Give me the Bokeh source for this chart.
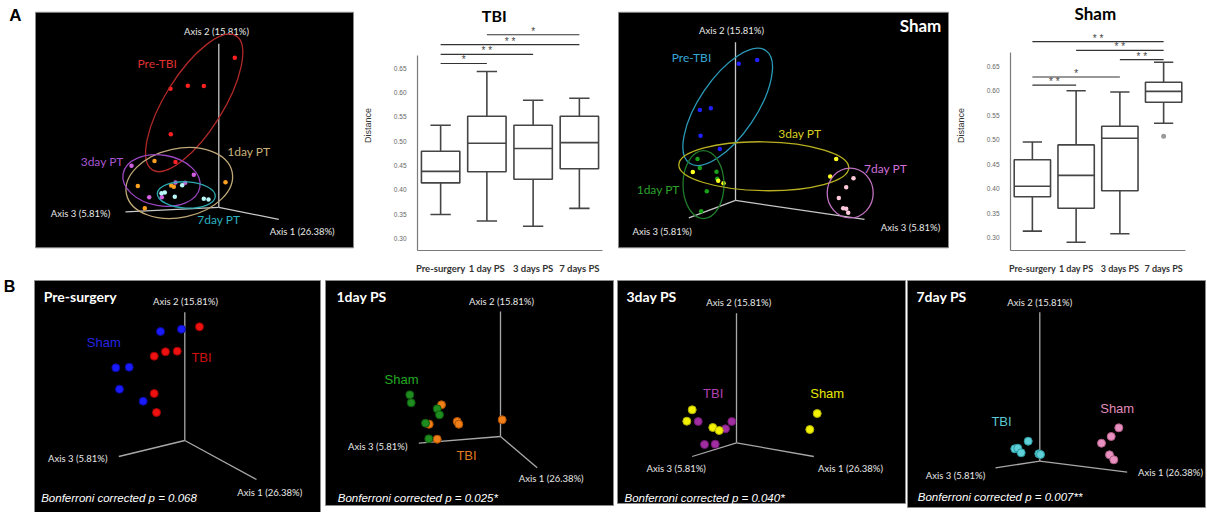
from bokeh.plotting import figure
from bokeh.layouts import row, column
from bokeh.models import Range1d, FixedTicker, LinearAxis, NumeralTickFormatter
from bokeh.core.properties import value
from bokeh.embed import file_html
from bokeh.resources import INLINE

# ---------------- box plot data (Distance) ----------------
categories = ["Pre-surgery", "1 day PS", "3 days PS", "7 days PS"]
positions = [1, 2, 3, 4]
tick_values = [0.30, 0.35, 0.40, 0.45, 0.50, 0.55, 0.60, 0.65]

tbi_low = [0.349, 0.3355, 0.3248, 0.3617]
tbi_q1 = [0.414, 0.437, 0.4216, 0.443]
tbi_med = [0.4377, 0.4954, 0.4847, 0.4968]
tbi_q3 = [0.479, 0.551, 0.5325, 0.551]
tbi_high = [0.5325, 0.643, 0.584, 0.588]
tbi_sig_from = [2, 1, 1, 1]
tbi_sig_to = [4, 4, 3, 2]
tbi_sig_level = [0.7186, 0.6984, 0.6782, 0.6595]
tbi_sig_mark = ["*", "* *", "* *", "*"]

sham_low = [0.3134, 0.2906, 0.308, 0.5335]
sham_q1 = [0.3837, 0.3602, 0.3958, 0.5765]
sham_med = [0.405, 0.4271, 0.5028, 0.5986]
sham_q3 = [0.4592, 0.4894, 0.5275, 0.6173]
sham_high = [0.4954, 0.5998, 0.5972, 0.658]
sham_out_x = [4]
sham_out_y = [0.5068]
sham_sig_from = [1, 2, 3, 1, 1]
sham_sig_to = [4, 4, 4, 3, 2]
sham_sig_level = [0.7002, 0.6821, 0.6635, 0.6279, 0.6112]
sham_sig_mark = ["* *", "* *", "* *", "*", "* *"]

# ---------------- PCoA scores (projected, panel pixel space) ----------------
a1_pre_x = [234.3, 170.0, 187.3, 203.3, 170.3, 175.0]
a1_pre_y = [63.3, 97.3, 94.0, 94.3, 147.7, 178.3]
a1_d1_x = [154.0, 137.3, 170.7, 173.3, 225.0, 144.3]
a1_d1_y = [177.3, 204.7, 204.3, 205.7, 200.7, 229.3]
a1_d3_x = [131.0, 193.3, 175.0, 184.7, 148.7, 161.3]
a1_d3_y = [182.3, 192.3, 201.0, 201.3, 217.3, 217.3]
a1_d7_x = [181.7, 161.0, 164.3, 174.3, 203.3, 208.0]
a1_d7_y = [204.0, 212.7, 212.0, 216.7, 219.0, 219.7]
a3_pre_x = [738.3, 756.7, 699.3, 710.3, 700.0, 719.3]
a3_pre_y = [69.7, 65.7, 121.0, 119.0, 149.3, 164.0]
a3_d1_x = [697.0, 699.3, 716.0, 716.7, 706.3, 700.7]
a3_d1_y = [175.0, 185.0, 189.0, 196.7, 210.7, 232.7]
a3_d3_x = [692.3, 717.7, 723.0, 835.7, 829.7]
a3_d3_y = [189.3, 199.0, 201.7, 175.0, 194.3]
a3_d7_x = [853.0, 845.7, 838.3, 842.7, 845.7, 847.7]
a3_d7_y = [196.3, 206.3, 218.0, 229.3, 230.0, 234.3]
b1_sham_x = [160.0, 181.0, 115.3, 128.7, 119.0, 142.7]
b1_sham_y = [331.0, 328.7, 367.3, 366.7, 388.7, 400.7]
b1_tbi_x = [199.0, 153.7, 165.0, 176.7, 153.7, 156.0]
b1_tbi_y = [326.3, 355.7, 351.3, 350.7, 393.0, 412.0]
b2_sham_x = [409.3, 410.7, 436.7, 439.0, 425.0, 428.3]
b2_sham_y = [394.3, 402.3, 408.3, 414.3, 422.7, 438.3]
b2_tbi_x = [441.0, 428.7, 456.7, 458.3, 501.7, 436.7]
b2_tbi_y = [404.3, 423.7, 421.0, 423.7, 419.3, 438.7]
b3_sham_x = [691.7, 686.3, 712.3, 718.7, 816.7, 809.3]
b3_sham_y = [409.3, 420.7, 427.0, 430.0, 413.0, 429.0]
b3_tbi_x = [697.7, 731.3, 725.0, 704.0, 714.7]
b3_tbi_y = [421.0, 421.0, 428.3, 444.0, 443.7]
b4_sham_x = [1118.3, 1110.7, 1101.0, 1109.0, 1113.3]
b4_sham_y = [427.3, 436.0, 442.7, 454.3, 459.3]
b4_tbi_x = [1027.7, 1014.3, 1017.3, 1020.7, 1038.3, 1040.0]
b4_tbi_y = [440.7, 448.3, 447.7, 452.3, 453.3, 454.0]

b_pvalues = ["Bonferroni corrected p = 0.068", "Bonferroni corrected p = 0.025*",
             "Bonferroni corrected p = 0.040*", "Bonferroni corrected p = 0.007**"]
b_titles = ["Pre-surgery", "1day PS", "3day PS", "7day PS"]

PC_FONT = value("Lato")
AX_FONT = value("Liberation Sans")


def no_grid(p):
    p.xgrid.visible = False
    p.ygrid.visible = False


def base_fig(x0, x1, y0, y1):
    p = figure(width=int(x1 - x0), height=int(y1 - y0), x_range=Range1d(x0, x1),
               y_range=Range1d(y1, y0), output_backend="svg", toolbar_location=None,
               x_axis_location=None, y_axis_location=None, min_border=0)
    p.outline_line_color = None
    p.background_fill_color = "white"
    p.border_fill_color = "white"
    no_grid(p)
    return p


def txt(p, x, y, s, color, size, font=PC_FONT, style="normal", align="center"):
    p.text(x=[x], y=[y], text=[s], text_color=color, text_font=font, text_font_size=size,
           text_font_style=style, text_align=align, text_baseline="middle")


def pcoa_axes(p, origin, ends, labels, lab_pos, col="#c8c8c8", lcol="#e8e8e8"):
    ox, oy = origin
    p.segment(x0=[ox] * 3, y0=[oy] * 3, x1=[e[0] for e in ends], y1=[e[1] for e in ends],
              line_color=col, line_width=1.3)
    for s, (lx, ly) in zip(labels, lab_pos):
        txt(p, lx, ly, s, lcol, "9.5px")


def panel_box(p, l, r, t, b):
    p.quad(left=[l], right=[r], top=[t], bottom=[b], fill_color="black",
           line_color="#8a8a8a", line_width=1)


AX_LABELS = ["Axis 2 (15.81%)", "Axis 3 (5.81%)", "Axis 1 (26.38%)"]

# ---------- A1: TBI PCoA ----------
fA1 = base_fig(0, 355, 0, 276)
txt(fA1, 15, 17, "A", "black", "17px", font=AX_FONT, style="bold")
panel_box(fA1, 35, 353, 13, 273)
pcoa_axes(fA1, (218.3, 228.3), [(218.3, 47.7), (125.0, 233.3), (278.3, 241.7)],
          AX_LABELS, [(216, 34.3), (80, 235.7), (301.7, 255)])
for (xs, ys, c) in [(a1_pre_x, a1_pre_y, "#ff2020"), (a1_d1_x, a1_d1_y, "#ffa020"),
                    (a1_d3_x, a1_d3_y, "#d060e0"), (a1_d7_x, a1_d7_y, "#b8f8f8")]:
    fA1.scatter(xs, ys, size=4.5, fill_color=c, line_color=None)
fA1.ellipse(x=[193.7, 178.8, 161.0, 185.8], y=[113.0, 201.5, 198.7, 214.7],
            width=[158, 108, 78, 58], height=[64, 76, 56, 29], angle=[58, 12, -10, -3],
            angle_units="deg", fill_color=None,
            line_color=["#b02828", "#bfa878", "#9a46c0", "#2aa8b0"], line_width=1.3)
txt(fA1, 156.7, 69.3, "Pre-TBI", "#e03030", "12px")
txt(fA1, 248.3, 166.7, "1day PT", "#c9b27c", "12px")
txt(fA1, 101.7, 177.3, "3day PT", "#a855d0", "12px")
txt(fA1, 218.3, 242.3, "7day PT", "#2ab0c0", "12px")


# ---------- box plots ----------
def box_fig(width, left_b, right_b, y0, y1, axis_top, title, title_x, title_y,
            lo, q1, med, q3, hi, sf, st, sl, sm, fsize_title, cat_size):
    p = figure(width=width, height=276, x_range=Range1d(0.5, 4.5), y_range=Range1d(y0, y1),
               output_backend="svg", toolbar_location=None, x_axis_location=None,
               y_axis_location=None, min_border_left=left_b, min_border_right=right_b,
               min_border_top=0, min_border_bottom=21)
    p.outline_line_color = None
    no_grid(p)
    yax = LinearAxis(ticker=FixedTicker(ticks=tick_values), formatter=NumeralTickFormatter(format="0.00"),
                     bounds=(y0, axis_top), axis_label="Distance")
    yax.axis_line_color = "#7a7a7a"
    yax.axis_line_width = 1.2
    yax.major_tick_line_color = None
    yax.minor_tick_line_color = None
    yax.major_label_text_font_size = "6.5px"
    yax.major_label_text_color = "#666666"
    yax.major_label_text_font = "Liberation Sans"
    yax.major_label_standoff = 5
    yax.axis_label_text_font = "Liberation Sans"
    yax.axis_label_text_font_size = "9px"
    yax.axis_label_text_font_style = "normal"
    yax.axis_label_text_color = "#333333"
    yax.axis_label_standoff = 18
    p.add_layout(yax, "left")
    xax = LinearAxis(ticker=FixedTicker(ticks=positions),
                     major_label_overrides={pp: c for pp, c in zip(positions, categories)})
    xax.axis_line_color = "#7a7a7a"
    xax.axis_line_width = 1.2
    xax.major_tick_line_color = None
    xax.minor_tick_line_color = None
    xax.major_label_text_font = "Lato"
    xax.major_label_text_font_style = "bold"
    xax.major_label_text_font_size = cat_size
    xax.major_label_text_color = "#333333"
    xax.major_label_standoff = 6
    p.add_layout(xax, "below")
    bw = 0.83
    cw = 0.22
    col = "#454545"
    p.segment(x0=positions, y0=lo, x1=positions, y1=q1, line_color=col, line_width=1.6)
    p.segment(x0=positions, y0=q3, x1=positions, y1=hi, line_color=col, line_width=1.6)
    p.segment(x0=[x - cw for x in positions], y0=lo, x1=[x + cw for x in positions], y1=lo,
              line_color=col, line_width=1.6)
    p.segment(x0=[x - cw for x in positions], y0=hi, x1=[x + cw for x in positions], y1=hi,
              line_color=col, line_width=1.6)
    p.vbar(x=positions, width=bw, bottom=q1, top=q3, fill_color="white", line_color=col, line_width=1.6)
    p.segment(x0=[x - bw / 2 for x in positions], y0=med, x1=[x + bw / 2 for x in positions], y1=med,
              line_color=col, line_width=1.6)
    p.segment(x0=sf, y0=sl, x1=st, y1=sl, line_color="#333333", line_width=1.2)
    p.text(x=[(a + b) / 2 for a, b in zip(sf, st)], y=sl, text=sm, text_color="#444444",
           text_font=AX_FONT, text_font_size="10px", text_align="center", text_baseline="bottom",
           y_offset=2)
    p.text(x=[title_x], y=[title_y], text=[title], text_color="black", text_font=PC_FONT,
           text_font_size=fsize_title, text_font_style="bold", text_align="center",
           text_baseline="middle")
    return p


fA2 = box_fig(262, 62, 15, 0.275, 0.789, 0.676, "TBI", 2.16, 0.759,
              tbi_low, tbi_q1, tbi_med, tbi_q3, tbi_high,
              tbi_sig_from, tbi_sig_to, tbi_sig_level, tbi_sig_mark, "16px", "9.5px")

fA4 = box_fig(257, 60, 22, 0.2739, 0.784, 0.6775, "Sham", 2.44, 0.7573,
              sham_low, sham_q1, sham_med, sham_q3, sham_high,
              sham_sig_from, sham_sig_to, sham_sig_level, sham_sig_mark, "17px", "9px")
fA4.scatter(sham_out_x, sham_out_y, size=5, fill_color="#9a9a9a", line_color=None)

# ---------- A3: Sham PCoA ----------
fA3 = base_fig(617, 950, 0, 276)
panel_box(fA3, 618, 948, 13, 273)
pcoa_axes(fA3, (735, 220.7), [(735, 46), (688.3, 240), (864, 241.7)],
          ["Axis 2 (15.81%)", "Axis 3 (5.81%)", "Axis 3 (5.81%)"],
          [(731, 33.3), (661.7, 255), (910, 250.7)])
for (xs, ys, c) in [(a3_pre_x, a3_pre_y, "#2020ff"), (a3_d1_x, a3_d1_y, "#18a018"),
                    (a3_d3_x, a3_d3_y, "#ffff20"), (a3_d7_x, a3_d7_y, "#ffc8dc")]:
    fA3.scatter(xs, ys, size=4.5, fill_color=c, line_color=None)
fA3.ellipse(x=[727.2, 703.0, 763.3, 849.7], y=[117.5, 203.2, 183.0, 212.5],
            width=[136, 41, 170, 46], height=[63, 75, 54, 55], angle=[56, 0, -1, 0],
            angle_units="deg", fill_color=None,
            line_color=["#2a9ab8", "#1f7a2a", "#b8b020", "#c070c0"], line_width=1.3)
txt(fA3, 691, 63.3, "Pre-TBI", "#34a6d6", "12px")
txt(fA3, 657.7, 209, "1day PT", "#2ca02c", "12px")
txt(fA3, 799.3, 146.7, "3day PT", "#d8d020", "12px")
txt(fA3, 885, 185.7, "7day PT", "#d070d8", "12px")
txt(fA3, 920, 27.3, "Sham", "white", "17px", style="bold")

# ---------- Row B ----------
fB1 = base_fig(0, 322, 276, 512)
txt(fB1, 9, 286, "B", "black", "16px", font=AX_FONT, style="bold")
panel_box(fB1, 34, 320, 280, 512)
pcoa_axes(fB1, (184.3, 440), [(184.3, 311.7), (118.3, 456), (256, 479)], AX_LABELS,
          [(185, 300.7), (77.3, 458.3), (269.3, 492.3)], col="#a8a8a8")
fB1.scatter(b1_sham_x, b1_sham_y, size=8, fill_color="#1a1aff", line_color="#0a0aa0")
fB1.scatter(b1_tbi_x, b1_tbi_y, size=8, fill_color="#ee1111", line_color="#a00000")
txt(fB1, 103.3, 341.7, "Sham", "#2424e0", "13px", font=AX_FONT)
txt(fB1, 201, 356.7, "TBI", "#d01010", "13px", font=AX_FONT)
txt(fB1, 43.3, 295.7, b_titles[0], "white", "14px", style="bold", align="left")
txt(fB1, 40.7, 497.7, b_pvalues[0], "white", "11.5px", font=AX_FONT, style="italic", align="left")

fB2 = base_fig(322, 615, 276, 512)
panel_box(fB2, 325, 613, 280, 505)
pcoa_axes(fB2, (500, 436), [(500, 311), (418.3, 442.7), (536.7, 467.3)], AX_LABELS,
          [(501, 300.7), (377.3, 445.7), (550.7, 478.3)], col="#a8a8a8")
fB2.scatter(b2_tbi_x, b2_tbi_y, size=8, fill_color="#f07f1a", line_color="#b05000")
fB2.scatter(b2_sham_x, b2_sham_y, size=8, fill_color="#1e8c1e", line_color="#0c5a0c")
txt(fB2, 401, 379, "Sham", "#22aa22", "13px", font=AX_FONT)
txt(fB2, 466, 455, "TBI", "#e07b20", "13px", font=AX_FONT)
txt(fB2, 336, 295.7, b_titles[1], "white", "14px", style="bold", align="left")
txt(fB2, 337.3, 497.3, b_pvalues[1], "white", "11.5px", font=AX_FONT, style="italic", align="left")

fB3 = base_fig(615, 906, 276, 512)
panel_box(fB3, 617, 905, 280, 503)
pcoa_axes(fB3, (736, 442.3), [(736, 312.7), (691.7, 456), (813.3, 456)], AX_LABELS,
          [(738.3, 301.7), (675.7, 467.7), (850, 467.7)], col="#a8a8a8")
fB3.scatter(b3_tbi_x, b3_tbi_y, size=8, fill_color="#a02ea0", line_color="#701870")
fB3.scatter(b3_sham_x, b3_sham_y, size=8, fill_color="#f2f200", line_color="#b0b000")
txt(fB3, 712.7, 392.7, "TBI", "#b040b0", "13px", font=AX_FONT)
txt(fB3, 826.7, 392.7, "Sham", "#e8e800", "13px", font=AX_FONT)
txt(fB3, 626, 295.7, b_titles[2], "white", "14px", style="bold", align="left")
txt(fB3, 624, 497.3, b_pvalues[2], "white", "11.5px", font=AX_FONT, style="italic", align="left")

fB4 = base_fig(906, 1207, 276, 512)
panel_box(fB4, 907, 1205, 280, 507)
pcoa_axes(fB4, (1039.3, 460.7), [(1039.3, 311.7), (995, 467.3), (1126.7, 471.7)], AX_LABELS,
          [(1039.3, 301.7), (955, 475), (1170, 472.3)], col="#a8a8a8")
fB4.scatter(b4_tbi_x, b4_tbi_y, size=8, fill_color="#5fd0d8", line_color="#2a9aa0")
fB4.scatter(b4_sham_x, b4_sham_y, size=8, fill_color="#e890bf", line_color="#b06088")
txt(fB4, 1001, 420.7, "TBI", "#5cc8d0", "13px", font=AX_FONT)
txt(fB4, 1116.7, 408.3, "Sham", "#e08cbc", "13px", font=AX_FONT)
txt(fB4, 916, 295.7, b_titles[3], "white", "14px", style="bold", align="left")
txt(fB4, 917.3, 496.7, b_pvalues[3], "white", "11.5px", font=AX_FONT, style="italic", align="left")

layout = column(row(fA1, fA2, fA3, fA4, spacing=0), row(fB1, fB2, fB3, fB4, spacing=0), spacing=0)

with open("out.html", "w") as f:
    f.write(file_html(layout, INLINE))
